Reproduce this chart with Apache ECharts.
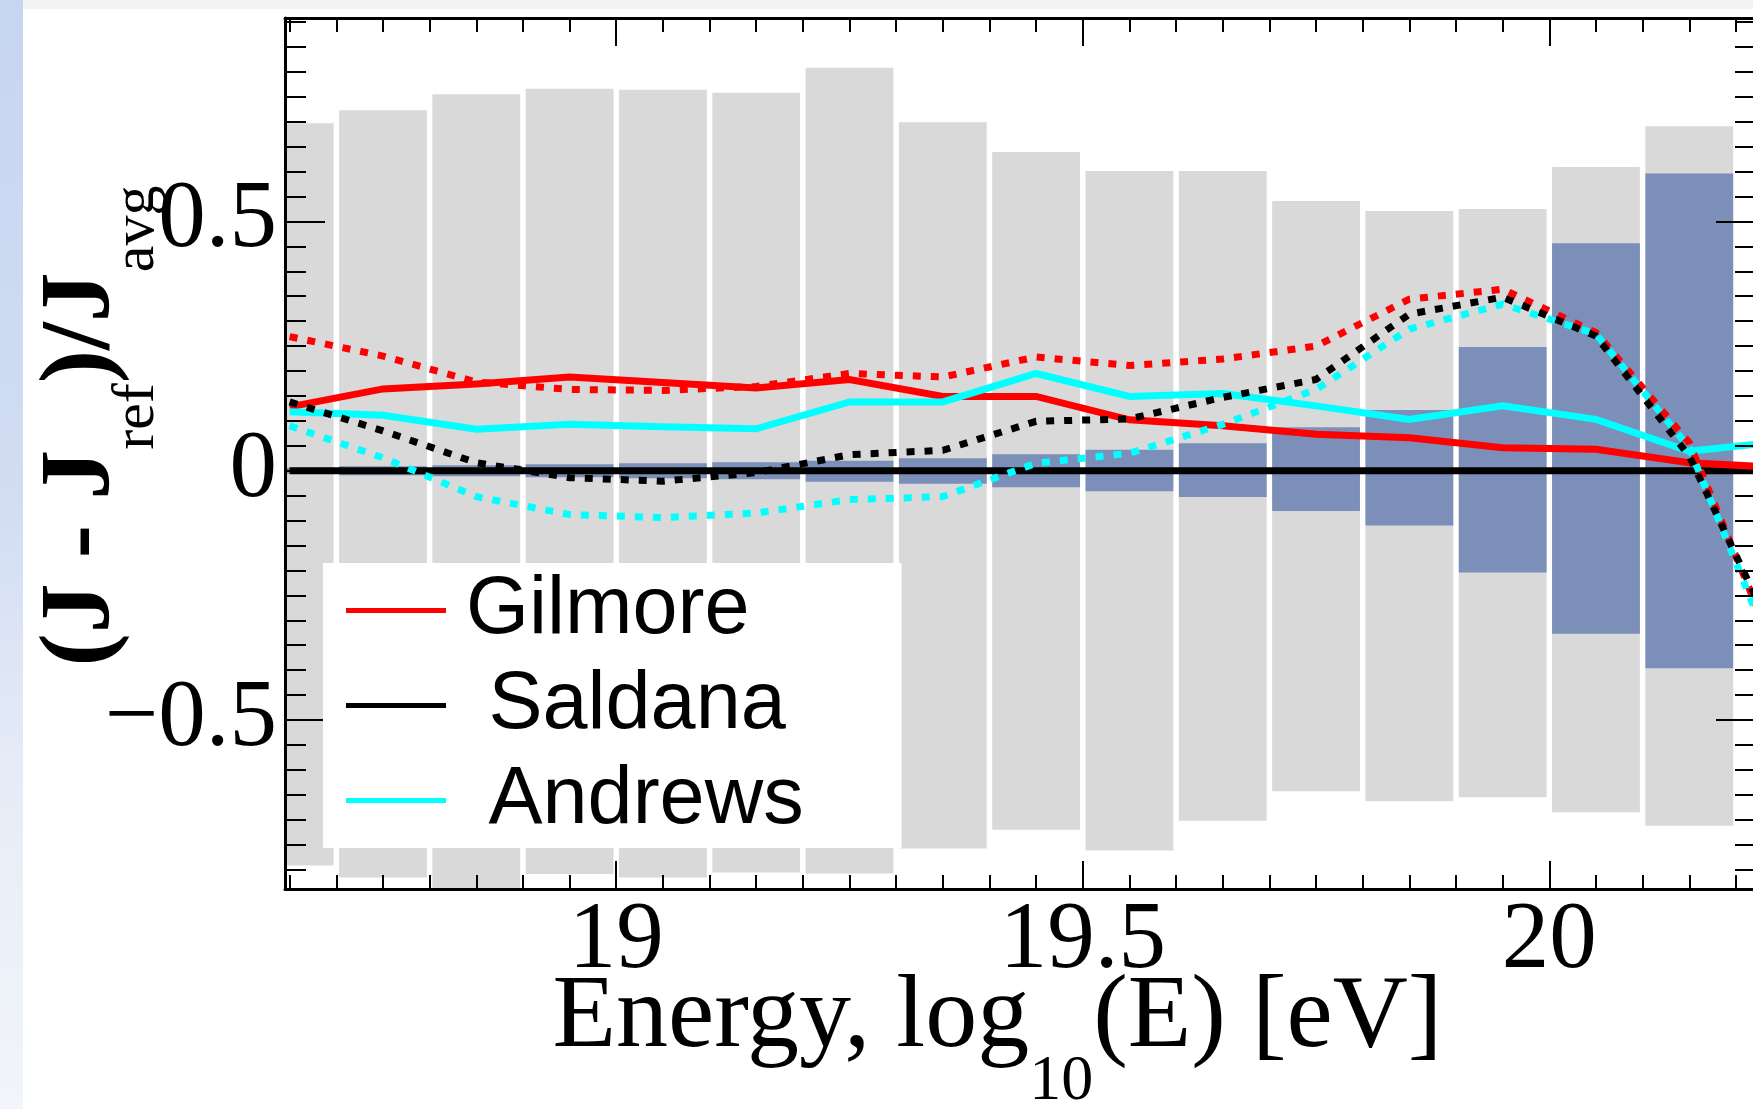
<!DOCTYPE html>
<html>
<head>
<meta charset="utf-8">
<script src="https://cdn.jsdelivr.net/npm/echarts@6/dist/echarts.min.js"></script>
<style>
  html, body { margin: 0; padding: 0; width: 1753px; height: 1109px; overflow: hidden; }
  body { position: relative; background: linear-gradient(180deg, #c6d5f0 0%, #d2ddf3 45%, #e6ecf7 70%, #f2f5fa 100%); }
  #topband { position: absolute; left: 23px; top: 0; right: 0; height: 9px; background: #f2f3f5; }
  #panel { position: absolute; left: 23px; top: 9px; right: 0; bottom: 0; background: #ffffff; }
  #chart { position: absolute; left: 0; top: 0; width: 1753px; height: 1109px; }
</style>
</head>
<body>
<div id="topband"></div>
<div id="panel"></div>
<div id="chart"></div>
<script>
// ---- energy bins (log10 E / eV) and their uncertainty bands ----
const binCentres = [18.65, 18.75, 18.85, 18.95, 19.05, 19.15, 19.25, 19.35,
                    19.45, 19.55, 19.65, 19.75, 19.85, 19.95, 20.05, 20.15];
const totalHigh = [0.697, 0.723, 0.755, 0.766, 0.764, 0.758, 0.808, 0.699,
                   0.639, 0.601, 0.601, 0.541, 0.521, 0.525, 0.609, 0.691];
const totalLow  = [-0.792, -0.816, -0.850, -0.809, -0.816, -0.806, -0.808, -0.758,
                   -0.720, -0.762, -0.702, -0.643, -0.663, -0.655, -0.685, -0.712];
const statHigh  = [0.006, 0.009, 0.011, 0.013, 0.015, 0.017, 0.020, 0.025,
                   0.033, 0.042, 0.055, 0.087, 0.122, 0.248, 0.456, 0.596];
const statLow   = [-0.006, -0.009, -0.011, -0.013, -0.015, -0.017, -0.022, -0.026,
                   -0.033, -0.041, -0.053, -0.081, -0.110, -0.204, -0.327, -0.396];

// ---- relative flux differences, sampled at the bin centres ----
const energy = [18.65, 18.75, 18.85, 18.95, 19.05, 19.15, 19.25, 19.35, 19.45,
                19.55, 19.65, 19.75, 19.85, 19.95, 20.05, 20.15, 20.25];
const gilmore       = [0.128, 0.164, 0.174, 0.188, 0.177, 0.166, 0.183, 0.149, 0.149,
                       0.102, 0.090, 0.073, 0.066, 0.046, 0.043, 0.016, 0.006];
const gilmoreAlt    = [0.269, 0.230, 0.178, 0.163, 0.161, 0.169, 0.195, 0.188, 0.228,
                       0.211, 0.224, 0.250, 0.344, 0.364, 0.277, 0.056, -0.399];
const saldana       = [0, 0, 0, 0, 0, 0, 0, 0, 0, 0, 0, 0, 0, 0, 0, 0, 0];
const saldanaAlt    = [0.138, 0.080, 0.016, -0.014, -0.021, -0.004, 0.032, 0.041, 0.099,
                       0.104, 0.147, 0.183, 0.314, 0.348, 0.270, 0.029, -0.368];
const andrews       = [0.118, 0.111, 0.083, 0.093, 0.088, 0.084, 0.138, 0.138, 0.195,
                       0.149, 0.155, 0.130, 0.103, 0.130, 0.103, 0.039, 0.059];
const andrewsAlt    = [0.090, 0.026, -0.052, -0.088, -0.094, -0.085, -0.058, -0.052, 0.015,
                       0.035, 0.093, 0.163, 0.284, 0.334, 0.274, 0.046, -0.415];

// ---- axes ----
const xMajorTicks = [19, 19.5, 20];
const yMajorTicks = [-0.5, 0, 0.5];
const X_MIN = 18.645, X_MAX = 20.2215;
const Y_MIN = -0.839, Y_MAX = 0.908;
const BIN_WIDTH = 0.1;

function steps(from, to, step) {
  const out = [];
  for (let k = 0; from + k * step <= to + 1e-9; k++) out.push(+(from + k * step).toFixed(3));
  return out;
}
const xMinorTicks = steps(18.65, 20.2, 0.05);
const yMinorTicks = steps(-0.8, 0.9, 0.05);

const SERIF = 'Liberation Serif';
const SANS = 'Liberation Sans';
const BAR_GAP = 2.75;

function rangeBar(fill) {
  return function (params, api) {
    const c = api.value(0), lo = api.value(1), hi = api.value(2);
    const a = api.coord([c - BIN_WIDTH / 2, hi]);
    const b = api.coord([c + BIN_WIDTH / 2, lo]);
    return {
      type: 'rect',
      shape: { x: a[0] + BAR_GAP, y: a[1], width: b[0] - a[0] - 2 * BAR_GAP, height: b[1] - a[1] },
      style: { fill: fill }
    };
  };
}

function band(low, high, fill) {
  return {
    type: 'custom',
    renderItem: rangeBar(fill),
    data: binCentres.map((c, i) => [c, low[i], high[i]]),
    encode: { x: 0, y: [1, 2] },
    clip: true,
    silent: true,
    z: 1
  };
}

function curve(name, values, color, dotted) {
  return {
    type: 'line',
    name: name,
    data: energy.map((x, i) => [x, values[i]]),
    showSymbol: false,
    symbol: 'none',
    clip: true,
    silent: true,
    color: color,
    itemStyle: { color: color },
    lineStyle: { color: color, width: 7, type: dotted ? [8, 10] : 'solid', cap: 'butt', join: 'miter' },
    z: 2
  };
}

function tickAxis(kind, position, values, length, withLine) {
  return {
    type: 'value',
    position: position,
    min: kind === 'x' ? X_MIN : Y_MIN,
    max: kind === 'x' ? X_MAX : Y_MAX,
    z: 3,
    splitLine: { show: false },
    axisLabel: { show: false },
    axisLine: { show: withLine, onZero: false, lineStyle: { color: '#000', width: 3 } },
    axisTick: { show: true, inside: true, length: length, customValues: values,
                lineStyle: { color: '#000', width: 2 } }
  };
}

const xBottom = tickAxis('x', 'bottom', xMajorTicks, 28, true);
xBottom.axisLabel = {
  show: true, customValues: xMajorTicks, margin: 6,
  fontFamily: SERIF, fontSize: 95, color: '#000',
  formatter: v => String(v)
};
xBottom.name = '{m|Energy, log}{s|10}{m|(E) [eV]}';
xBottom.nameLocation = 'middle';
xBottom.nameMoveOverlap = false;
xBottom.nameGap = 78;
xBottom.nameTextStyle = {
  padding: [0, 46, 0, 0],
  rich: {
    m: { fontFamily: SERIF, fontSize: 104, lineHeight: 104, verticalAlign: 'top', color: '#000' },
    s: { fontFamily: SERIF, fontSize: 64, lineHeight: 64, verticalAlign: 'top', padding: [83, 0, 0, 0], color: '#000' }
  }
};

const yLeft = tickAxis('y', 'left', yMajorTicks, 40, true);
yLeft.axisLabel = {
  show: true, customValues: yMajorTicks, margin: 8,
  fontFamily: SERIF, fontSize: 95, color: '#000',
  formatter: v => (v === 0 ? '0' : (v < 0 ? '\u2212' : '') + Math.abs(v))
};
yLeft.name = '{b|(J - J}{s|ref}{b|)/J}{s|avg}';
yLeft.nameLocation = 'middle';
yLeft.nameMoveOverlap = false;
yLeft.nameRotate = 90;
yLeft.nameGap = 153;
yLeft.nameTextStyle = {
  padding: [0, 0, 0, 55],
  rich: {
    b: { fontFamily: SERIF, fontWeight: 'bold', fontSize: 100, lineHeight: 100, verticalAlign: 'top', color: '#000' },
    s: { fontFamily: SERIF, fontSize: 60, lineHeight: 60, verticalAlign: 'top', padding: [75, 0, 0, 0], color: '#000' }
  }
};

const chart = echarts.init(document.getElementById('chart'), null, { renderer: 'canvas' });
chart.setOption({
  animation: false,
  backgroundColor: 'transparent',
  grid: { left: 285, top: 18, right: -3, bottom: 220, containLabel: false, outerBoundsMode: 'none' },
  xAxis: [
    xBottom,
    tickAxis('x', 'bottom', xMinorTicks, 14, false),
    tickAxis('x', 'top', xMajorTicks, 28, true),
    tickAxis('x', 'top', xMinorTicks, 14, false)
  ],
  yAxis: [
    yLeft,
    tickAxis('y', 'left', yMinorTicks, 21, false),
    tickAxis('y', 'right', yMajorTicks, 40, true),
    tickAxis('y', 'right', yMinorTicks, 21, false)
  ],
  legend: {
    data: ['Gilmore', 'Saldana', 'Andrews'],
    orient: 'vertical',
    left: 323,
    top: 563,
    padding: [7, 98, 7, 23],
    backgroundColor: '#ffffff',
    icon: 'rect',
    itemWidth: 100,
    itemHeight: 5,
    itemGap: 14,
    selectedMode: false,
    itemStyle: { borderWidth: 0 },
    formatter: name => (name === 'Gilmore' ? name : ' ' + name),
    textStyle: { fontFamily: SANS, fontSize: 81, color: '#000', lineHeight: 64, padding: [0, 0, 16, 15] }
  },
  series: [
    band(totalLow, totalHigh, '#d9d9d9'),
    band(statLow, statHigh, '#7b8fb8'),
    curve('Saldana', saldana, '#000000', false),
    curve('Gilmore', gilmore, '#ff0000', false),
    curve('Andrews', andrews, '#00ffff', false),
    curve('Gilmore', gilmoreAlt, '#ff0000', true),
    curve('Saldana', saldanaAlt, '#000000', true),
    curve('Andrews', andrewsAlt, '#00ffff', true)
  ]
});
</script>
</body>
</html>
